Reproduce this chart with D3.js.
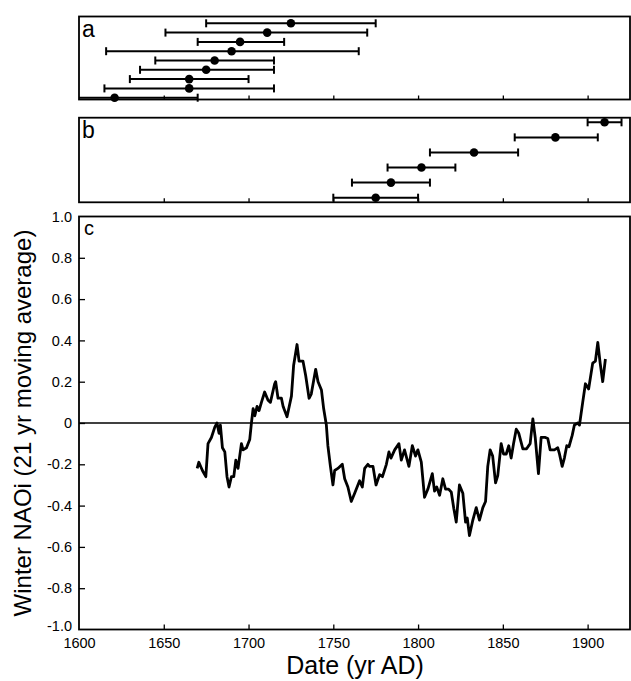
<!DOCTYPE html>
<html>
<head>
<meta charset="utf-8">
<script src="https://cdn.jsdelivr.net/npm/d3@7"></script>
<style>
  body { margin: 0; background: #fff; }
  text { font-family: "Liberation Sans", Arial, sans-serif; fill: #000; }
</style>
</head>
<body>
<div class="canvas"></div>
<script>
// panel a: dated events, centre + range (yr AD), top row first
const aCentre = [1725, 1711, 1695, 1690, 1680, 1675, 1665, 1665, 1621];
const aLow    = [1675, 1651, 1670, 1616, 1645, 1636, 1630, 1615, 1571];
const aHigh   = [1775, 1770, 1721, 1765, 1715, 1715, 1700, 1715, 1670];

// panel b
const bCentre = [1910, 1881, 1833, 1802, 1784, 1775];
const bLow    = [1900, 1857, 1807, 1782, 1761, 1750];
const bHigh   = [1920, 1906, 1859, 1822, 1807, 1800];

// panel c: winter NAOi, 21 yr moving average
const years = [1669.7, 1670.7, 1672.8, 1674.8, 1676.1, 1678.1, 1680.1, 1681.4, 1682.6, 1683.4,
  1684.6, 1686.0, 1687.3, 1688.5, 1689.9, 1691.3, 1692.5, 1693.8, 1695.8, 1696.8,
  1698.8, 1700.7, 1701.7, 1702.7, 1703.7, 1705.0, 1706.2, 1707.6, 1709.5, 1711.5,
  1712.9, 1715.4, 1716.0, 1717.4, 1719.4, 1720.4, 1722.7, 1725.3, 1726.6, 1728.6,
  1729.8, 1732.1, 1733.7, 1735.7, 1737.0, 1739.6, 1741.0, 1743.0, 1744.3, 1745.9,
  1746.8, 1748.3, 1749.8, 1750.8, 1752.7, 1755.3, 1756.7, 1758.6, 1760.6, 1762.6,
  1765.5, 1767.1, 1768.5, 1770.4, 1771.4, 1773.4, 1775.2, 1777.3, 1779.0, 1781.3,
  1782.8, 1784.0, 1786.2, 1788.7, 1790.1, 1792.0, 1794.6, 1796.6, 1798.5, 1799.9,
  1801.9, 1803.8, 1805.8, 1808.4, 1809.7, 1811.0, 1812.7, 1814.6, 1816.2, 1818.0,
  1819.6, 1821.1, 1822.5, 1824.4, 1826.4, 1828.0, 1829.0, 1830.3, 1832.3, 1834.3,
  1836.2, 1838.2, 1839.8, 1841.1, 1842.5, 1844.0, 1845.7, 1847.0, 1849.0, 1850.4,
  1852.0, 1853.5, 1854.9, 1856.3, 1857.9, 1859.4, 1861.8, 1864.0, 1866.1, 1867.7,
  1869.1, 1871.0, 1872.6, 1875.1, 1876.5, 1877.9, 1880.4, 1882.4, 1883.4, 1885.0,
  1886.3, 1887.7, 1889.0, 1890.9, 1892.2, 1894.2, 1895.2, 1897.1, 1898.7, 1900.6,
  1903.0, 1904.6, 1906.0, 1907.4, 1908.9, 1910.5];
const naoi = [-0.22, -0.19, -0.23, -0.26, -0.10, -0.07, -0.02, 0.00, -0.05, -0.01,
  -0.12, -0.14, -0.26, -0.31, -0.26, -0.26, -0.18, -0.22, -0.10, -0.13,
  -0.12, -0.08, 0.00, 0.07, 0.035, 0.08, 0.06, 0.10, 0.15, 0.11,
  0.10, 0.19, 0.20, 0.12, 0.12, 0.08, 0.03, 0.13, 0.28, 0.38,
  0.30, 0.30, 0.23, 0.12, 0.14, 0.26, 0.20, 0.16, 0.07, -0.01,
  -0.11, -0.21, -0.30, -0.23, -0.22, -0.20, -0.27, -0.31, -0.38, -0.34,
  -0.28, -0.31, -0.22, -0.20, -0.21, -0.21, -0.30, -0.25, -0.26, -0.20,
  -0.14, -0.17, -0.13, -0.10, -0.18, -0.13, -0.21, -0.11, -0.16, -0.13,
  -0.19, -0.36, -0.32, -0.245, -0.33, -0.31, -0.35, -0.27, -0.32, -0.32,
  -0.335, -0.415, -0.48, -0.30, -0.34, -0.48, -0.46, -0.545, -0.47, -0.41,
  -0.47, -0.41, -0.38, -0.21, -0.13, -0.16, -0.29, -0.255, -0.10, -0.15,
  -0.15, -0.11, -0.17, -0.10, -0.03, -0.05, -0.125, -0.125, -0.10, 0.02,
  -0.07, -0.245, -0.07, -0.07, -0.075, -0.13, -0.13, -0.12, -0.15, -0.21,
  -0.17, -0.11, -0.115, -0.06, -0.01, 0.00, -0.01, 0.10, 0.19, 0.165,
  0.29, 0.30, 0.39, 0.29, 0.20, 0.31];

const xTicks = [1600, 1650, 1700, 1750, 1800, 1850, 1900];
const yTicks = [1.0, 0.8, 0.6, 0.4, 0.2, 0, -0.2, -0.4, -0.6, -0.8, -1.0];

const dims = { width: 631, height: 681, left: 79, right: 630 };
const panelA = { top: 16.5, bottom: 99.5 };
const panelB = { top: 117.7, bottom: 202.3 };
const panelC = { top: 216.5, bottom: 629.5 };

const svg = d3.select('.canvas')
  .append('svg')
  .attr('width', dims.width)
  .attr('height', dims.height);

const x = d3.scaleLinear().domain([1600, 1925]).range([dims.left, dims.right]);
const y = d3.scaleLinear().domain([-1, 1]).range([panelC.bottom, panelC.top]);

// clip everything to the plotting width
svg.append('defs').append('clipPath').attr('id', 'plotClip')
  .append('rect')
    .attr('x', dims.left).attr('y', 0)
    .attr('width', dims.right - dims.left).attr('height', dims.height);

// draws one of the dated-event panels (a, b)
const eventPanel = (box, label, centre, low, high, r0, r1) => {
  const g = svg.append('g');
  const row = d3.scalePoint().domain(d3.range(centre.length)).range([r0, r1]);

  g.append('rect')
    .attr('x', dims.left).attr('y', box.top)
    .attr('width', dims.right - dims.left).attr('height', box.bottom - box.top)
    .attr('fill', 'none').attr('stroke', '#000').attr('stroke-width', 1.8);

  // inward ticks on bottom edge
  g.append('g')
    .attr('transform', `translate(0,${box.bottom})`)
    .call(d3.axisTop(x).tickValues(xTicks.slice(1)).tickSize(4).tickFormat(''))
    .call(a => a.select('.domain').remove())
    .selectAll('line').attr('stroke-width', 1.3);

  const bars = g.append('g').attr('clip-path', 'url(#plotClip)')
    .selectAll('g').data(centre).enter().append('g');

  bars.append('line')
    .attr('x1', (d, i) => x(low[i])).attr('x2', (d, i) => x(high[i]))
    .attr('y1', (d, i) => row(i)).attr('y2', (d, i) => row(i))
    .attr('stroke', '#000').attr('stroke-width', 2);
  [low, high].forEach(end => {
    bars.append('line')
      .attr('x1', (d, i) => x(end[i])).attr('x2', (d, i) => x(end[i]))
      .attr('y1', (d, i) => row(i) - 4).attr('y2', (d, i) => row(i) + 4)
      .attr('stroke', '#000').attr('stroke-width', 2);
  });
  bars.append('circle')
    .attr('cx', d => x(d)).attr('cy', (d, i) => row(i))
    .attr('r', 4.3).attr('fill', '#000');

  g.append('text')
    .attr('x', dims.left + 3).attr('y', box.top + 20)
    .attr('font-size', 23).text(label);
};

eventPanel(panelA, 'a', aCentre, aLow, aHigh, 23.3, 97.7);
eventPanel(panelB, 'b', bCentre, bLow, bHigh, 122.3, 197.7);

// panel c
const gc = svg.append('g');

gc.append('rect')
  .attr('x', dims.left).attr('y', panelC.top)
  .attr('width', dims.right - dims.left).attr('height', panelC.bottom - panelC.top)
  .attr('fill', 'none').attr('stroke', '#000').attr('stroke-width', 1.8);

const xAxis = gc.append('g')
  .attr('transform', `translate(0,${panelC.bottom})`)
  .call(d3.axisBottom(x).tickValues(xTicks).tickSize(0).tickPadding(8).tickFormat(d3.format('d')));
xAxis.select('.domain').remove();
xAxis.selectAll('text').attr('font-size', 14.5).attr('font-family', '"Liberation Sans", Arial, sans-serif');

gc.append('g')
  .attr('transform', `translate(0,${panelC.bottom})`)
  .call(d3.axisTop(x).tickValues(xTicks.slice(1)).tickSize(5).tickFormat(''))
  .call(a => a.select('.domain').remove())
  .selectAll('line').attr('stroke-width', 1.3);

// plain hyphen for negatives, as in the original
const yFmt = d => d === 0 ? '0' : d3.format('.1f')(d).replace('\u2212', '-');

const yAxis = gc.append('g')
  .attr('transform', `translate(${dims.left},0)`)
  .call(d3.axisLeft(y).tickValues(yTicks).tickSize(0).tickPadding(7).tickFormat(yFmt));
yAxis.select('.domain').remove();
yAxis.selectAll('text').attr('font-size', 14.5).attr('font-family', '"Liberation Sans", Arial, sans-serif');
// lift the bottom label a little so it clears "1600"
yAxis.selectAll('text').filter(d => d === -1).attr('dy', '0.1em');

gc.append('g')
  .attr('transform', `translate(${dims.left},0)`)
  .call(d3.axisRight(y).tickValues(yTicks.slice(1, -1)).tickSize(6).tickFormat(''))
  .call(a => a.select('.domain').remove())
  .selectAll('line').attr('stroke-width', 1.3);

// zero line
gc.append('line')
  .attr('x1', dims.left).attr('x2', dims.right)
  .attr('y1', y(0)).attr('y2', y(0))
  .attr('stroke', '#000').attr('stroke-width', 1.6);

const line = d3.line()
  .x((d, i) => x(years[i]))
  .y(d => y(d));

gc.append('path')
  .datum(naoi)
  .attr('d', line)
  .attr('fill', 'none')
  .attr('stroke', '#000')
  .attr('stroke-width', 2.8)
  .attr('stroke-linejoin', 'round');

gc.append('text')
  .attr('x', dims.left + 5).attr('y', panelC.top + 18)
  .attr('font-size', 20).text('c');

// axis titles
svg.append('text')
  .attr('x', 355).attr('y', 674)
  .attr('text-anchor', 'middle').attr('font-size', 25)
  .text('Date (yr AD)');

svg.append('text')
  .attr('transform', `translate(31,423) rotate(-90)`)
  .attr('text-anchor', 'middle').attr('font-size', 24)
  .text('Winter NAOi (21 yr moving average)');
</script>
</body>
</html>
